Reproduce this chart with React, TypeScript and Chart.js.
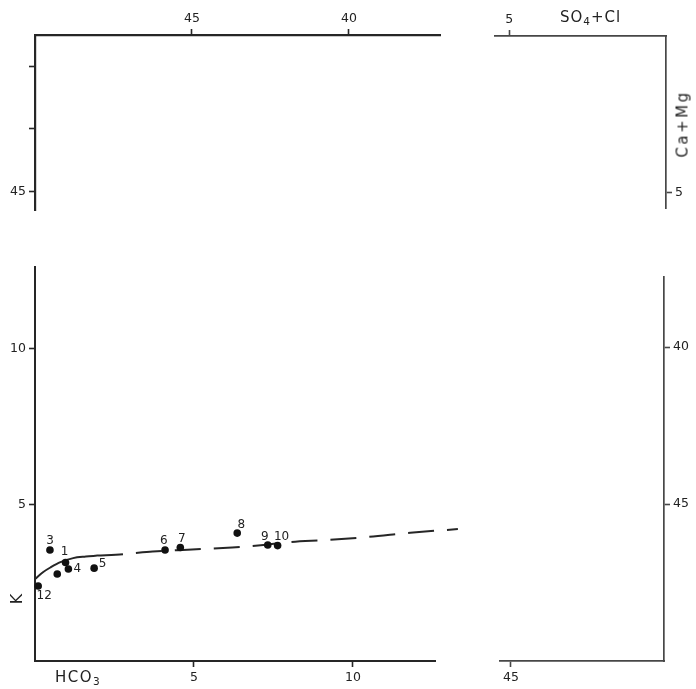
import React, { useEffect, useRef } from 'react';
import { Chart, registerables } from 'chart.js';

Chart.register(...registerables);

// ---------- data ----------
const sampleIds = ['12', '3', '1', '', '4', '5', '6', '7', '8', '9', '10'];
const hco3Values = [0.1, 0.47, 0.96, 0.7, 1.05, 1.86, 4.09, 4.57, 6.36, 7.32, 7.63];
const kValues = [2.4, 3.55, 3.15, 2.78, 2.94, 2.97, 3.55, 3.63, 4.09, 3.71, 3.69];

const trendSolidX = [0, 0.25, 0.5, 0.8, 1.2, 1.6, 1.95];
const trendSolidY = [2.62, 2.84, 3.0, 3.16, 3.29, 3.34, 3.37];
const trendDashX = [1.95, 2.8, 3.7, 4.8, 6.2, 7.1, 8.0, 9.2, 10.5, 11.8, 13.3];
const trendDashY = [3.37, 3.42, 3.5, 3.56, 3.63, 3.7, 3.8, 3.87, 3.97, 4.1, 4.22];

// tick values
const hco3Ticks = [5, 10];
const kTicks = [5, 10];
const upperLeftTopTicks = [45, 40];
const upperLeftSideTicks = [45, 47, 49];
const upperLeftSideLabels = [45];
const upperRightTopTicks = [5];
const upperRightSideTicks = [5];
const lowerRightBottomTicks = [45];
const lowerRightSideTicks = [40, 45];

// ---------- styles ----------
const FONT = '"DejaVu Sans", sans-serif';
const TEXT = '#222';
const LINE = '#262626';
const LINE_LIGHT = '#474747';

// label placement relative to each point (pixels)
const labelOffsets: [number, number][] = [
  [6, 10], [0, -9], [-1, -11], [0, 0], [9, 0], [8.5, -4],
  [-1.3, -9], [1.4, -9], [4, -8], [-3, -8], [4, -9],
];

type ScaleSpec = {
  axis: 'x' | 'y';
  position: 'top' | 'bottom' | 'left' | 'right';
  min: number;
  max: number;
  reverse?: boolean;
  ticks: number[];
  labelled?: number[];
  size: number;
  lineWidth: number;
  color: string;
};

function makeScale(s: ScaleSpec) {
  const labelled = s.labelled ?? s.ticks;
  return {
    type: 'linear',
    axis: s.axis,
    position: s.position,
    min: s.min,
    max: s.max,
    reverse: !!s.reverse,
    afterBuildTicks: (scale: any) => {
      scale.ticks = s.ticks.map((v) => ({ value: v }));
    },
    afterFit: (scale: any) => {
      if (s.axis === 'x') scale.height = s.size;
      else scale.width = s.size;
    },
    border: { display: true, color: s.color, width: s.lineWidth },
    grid: {
      display: true,
      drawOnChartArea: false,
      drawTicks: true,
      tickLength: 6,
      tickWidth: 1.6,
      tickColor: s.color,
    },
    ticks: {
      padding: 3,
      color: TEXT,
      font: { family: FONT, size: 12.5 },
      autoSkip: false,
      maxRotation: 0,
      minRotation: 0,
      callback: (v: number) => (labelled.includes(v) ? String(v) : ''),
    },
  };
}

const pointLabelPlugin = {
  id: 'pointLabels',
  afterDatasetsDraw(chart: any) {
    const meta = chart.getDatasetMeta(0);
    const ctx = chart.ctx;
    ctx.save();
    ctx.fillStyle = TEXT;
    ctx.font = `12px ${FONT}`;
    ctx.textAlign = 'center';
    ctx.textBaseline = 'middle';
    meta.data.forEach((el: any, i: number) => {
      const t = sampleIds[i];
      if (!t) return;
      const [dx, dy] = labelOffsets[i];
      ctx.fillText(t, el.x + dx, el.y + dy);
    });
    ctx.restore();
  },
};

type Panel = {
  key: string;
  left: number;
  top: number;
  width: number;
  height: number;
  padding: { left: number; top: number; right: number; bottom: number };
  x: ScaleSpec;
  y: ScaleSpec;
  main?: boolean;
};

const panels: Panel[] = [
  {
    key: 'ul',
    left: 0, top: 0, width: 460, height: 230,
    padding: { left: 0, top: 0, right: 20, bottom: 20 },
    x: { axis: 'x', position: 'top', min: 37.1, max: 50, reverse: true, ticks: upperLeftTopTicks, size: 35, lineWidth: 2.2, color: LINE },
    y: { axis: 'y', position: 'left', min: 44.4, max: 50, ticks: upperLeftSideTicks, labelled: upperLeftSideLabels, size: 35, lineWidth: 2.2, color: LINE },
  },
  {
    key: 'ur',
    left: 470, top: 0, width: 226, height: 230,
    padding: { left: 25, top: 0, right: 0, bottom: 22 },
    x: { axis: 'x', position: 'top', min: 0, max: 5.45, reverse: true, ticks: upperRightTopTicks, size: 36, lineWidth: 1.7, color: LINE_LIGHT },
    y: { axis: 'y', position: 'right', min: 0, max: 5.5, reverse: true, ticks: upperRightSideTicks, size: 30, lineWidth: 1.7, color: LINE_LIGHT },
  },
  {
    key: 'main',
    left: 0, top: 240, width: 480, height: 449,
    padding: { left: 0, top: 27, right: 45, bottom: 0 },
    x: { axis: 'x', position: 'bottom', min: 0, max: 12.58, ticks: hco3Ticks, size: 28, lineWidth: 2, color: LINE },
    y: { axis: 'y', position: 'left', min: 0, max: 12.6, ticks: kTicks, size: 35, lineWidth: 2, color: LINE },
    main: true,
  },
  {
    key: 'lr',
    left: 480, top: 240, width: 216, height: 449,
    padding: { left: 20, top: 37, right: 0, bottom: 0 },
    x: { axis: 'x', position: 'bottom', min: 40.13, max: 45.35, reverse: true, ticks: lowerRightBottomTicks, size: 28, lineWidth: 1.7, color: LINE_LIGHT },
    y: { axis: 'y', position: 'right', min: 37.77, max: 50, reverse: true, ticks: lowerRightSideTicks, size: 32, lineWidth: 1.7, color: LINE_LIGHT },
  },
];

function mainDatasets() {
  return [
    {
      label: 'samples',
      data: hco3Values.map((x, i) => ({ x, y: kValues[i] })),
      pointRadius: 3.8,
      pointBackgroundColor: '#111',
      pointBorderWidth: 0,
      showLine: false,
      clip: false,
    },
    {
      label: 'trend',
      data: trendSolidX.map((x, i) => ({ x, y: trendSolidY[i] })),
      showLine: true,
      borderColor: LINE,
      borderWidth: 2,
      pointRadius: 0,
      cubicInterpolationMode: 'monotone',
      clip: false,
    },
    {
      label: 'trend (extrapolated)',
      data: trendDashX.map((x, i) => ({ x, y: trendDashY[i] })),
      showLine: true,
      borderColor: LINE,
      borderWidth: 2,
      borderDash: [26, 13],
      pointRadius: 0,
      cubicInterpolationMode: 'monotone',
      clip: false,
    },
  ];
}

export default function App() {
  const refs = useRef<Record<string, HTMLCanvasElement | null>>({});

  useEffect(() => {
    const charts: Chart[] = [];
    panels.forEach((p) => {
      const canvas = refs.current[p.key];
      if (!canvas) return;
      const chart = new Chart(canvas, {
        type: 'scatter',
        data: { datasets: p.main ? (mainDatasets() as any) : [] },
        options: {
          responsive: false,
          animation: false,
          devicePixelRatio: 1,
          events: [],
          layout: { padding: p.padding },
          plugins: { legend: { display: false }, tooltip: { enabled: false } },
          scales: { x: makeScale(p.x) as any, y: makeScale(p.y) as any },
        },
        plugins: p.main ? [pointLabelPlugin] : [],
      });
      charts.push(chart);
    });
    return () => charts.forEach((c) => c.destroy());
  }, []);

  const titleStyle: React.CSSProperties = {
    position: 'absolute',
    fontFamily: FONT,
    color: TEXT,
    lineHeight: 1,
    whiteSpace: 'nowrap',
  };
  const sub: React.CSSProperties = { fontSize: '0.7em', verticalAlign: '-0.3em' };

  return (
    <div style={{ position: 'absolute', left: 0, top: 0, width: 696, height: 689, background: '#fff', overflow: 'hidden' }}>
      {panels.map((p) => (
        <canvas
          key={p.key}
          ref={(el) => { refs.current[p.key] = el; }}
          width={p.width}
          height={p.height}
          style={{ position: 'absolute', left: p.left, top: p.top, width: p.width, height: p.height }}
        />
      ))}
      <div style={{ ...titleStyle, left: 560, top: 10, fontSize: 15, letterSpacing: 1 }}>
        SO<span style={sub}>4</span>+Cl
      </div>
      <div style={{ ...titleStyle, left: 683, top: 124, fontSize: 15, letterSpacing: 2.5, transform: 'translate(-50%, -50%) rotate(-90deg)' }}>
        Ca+Mg
      </div>
      <div style={{ ...titleStyle, left: 55, top: 670, fontSize: 15, letterSpacing: 1.5 }}>
        HCO<span style={sub}>3</span>
      </div>
      <div style={{ ...titleStyle, left: 17, top: 599, fontSize: 16, transform: 'translate(-50%, -50%) rotate(-90deg)' }}>
        K
      </div>
    </div>
  );
}
